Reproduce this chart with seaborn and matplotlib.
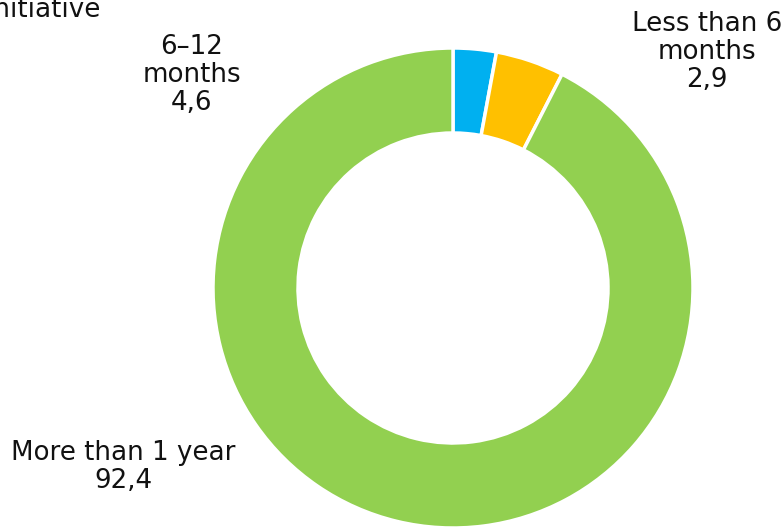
import matplotlib
matplotlib.use("Agg")
import matplotlib.pyplot as plt
import seaborn as sns

# duration of the initiative, percent of respondents
labels = ["Less than 6\nmonths", "6\u201312\nmonths", "More than 1 year"]
shares = [2.9, 4.6, 92.4]
colors = ["#00B0F0", "#FFC000", "#92D050"]

sns.set_theme(style="white")
plt.rcParams['font.family'] = ['DejaVu Sans']

fig = plt.figure(figsize=(7.82, 5.28), dpi=100)
ax = fig.add_axes([0, 0, 1, 1])

ax.pie(shares, colors=sns.color_palette(colors), startangle=90, counterclock=False,
       radius=240, center=(453, 240),
       wedgeprops=dict(width=85, edgecolor='white', linewidth=2.5))

# pie() resets the limits, so use pixel-like units afterwards
ax.set_xlim(0, 782)
ax.set_ylim(0, 528)
ax.set_aspect('equal')
ax.axis('off')

# labels placed outside the ring
label_pos = [(707, 476), (192, 453), (123, 61)]
for lab, val, (x, y) in zip(labels, shares, label_pos):
    txt = f"{lab}\n{val:.1f}".replace('.', ',')
    ax.text(x, y, txt, ha='center', va='center', fontsize=18.8,
            color='#111111', linespacing=1.12)

# title is cropped off at the top-left
ax.text(101, 511, "initiative", ha='right', va='baseline', fontsize=18.8, color='#111111')

fig.savefig("out.png", dpi=100)
